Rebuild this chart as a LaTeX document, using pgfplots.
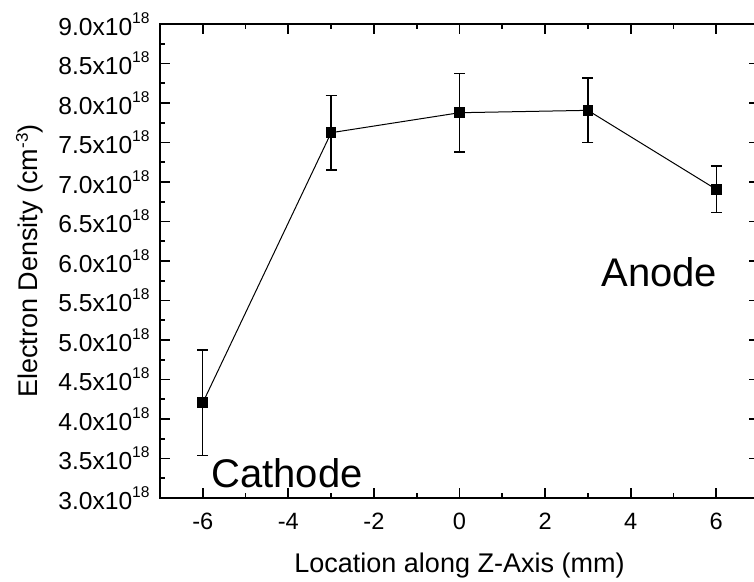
\documentclass[border=0pt]{standalone}
\usepackage{pgfplots}
\pgfplotsset{compat=1.18}
\usepackage{fontspec}
\setmainfont{Liberation Sans}

\newcommand{\xtickfont}{\fontsize{11.8}{13}\selectfont}
\newcommand{\ytickfont}{\fontsize{12.3}{14}\selectfont}
\newcommand{\labelfont}{\fontsize{13.5}{16}\selectfont}
\newcommand{\bigfont}{\fontsize{20}{24}\selectfont}

\begin{document}
\begin{tikzpicture}
\begin{axis}[
  name=ax,
  scale only axis,
  width=299.5pt, height=237pt,
  xmin=-7, xmax=7,
  ymin=3, ymax=9,
  xtick={-6,-4,...,6},
  ytick={3,3.5,...,9},
  minor x tick num=1,
  minor y tick num=1,
  tick align=inside,
  major tick length=5pt,
  minor tick length=2.6pt,
  every tick/.style={black, line width=0.9pt},
  axis line style={line width=1pt},
  /pgf/number format/assume math mode=true,
  xticklabel style={font=\xtickfont, inner sep=0pt, anchor=north, yshift=-7.5pt},
  yticklabel style={font=\ytickfont, inner sep=0pt, anchor=east, xshift=-5pt},
  yticklabel={\pgfmathprintnumber[fixed,fixed zerofill,precision=1]{\tick}x10\raisebox{6pt}{\fontsize{7.8}{8}\selectfont 18}},
  xlabel={Location along Z-Axis (mm)},
  ylabel={Electron Density (cm\raisebox{5pt}{\fontsize{8.5}{9}\selectfont -3})},
  xlabel style={font=\labelfont, inner sep=0pt, at={(axis description cs:0.5,-0.1574)}, anchor=base},
  ylabel style={font=\labelfont, inner sep=0pt, at={(axis description cs:-0.2037,0.5)}, anchor=base},
  clip=false,
]
% electron density in units of 10^18 cm^-3, with symmetric uncertainty
\addplot[
  black, line width=0.5pt,
  mark=square*, mark size=2.4pt, mark options={solid, fill=black},
  error bars/.cd, y dir=both, y explicit,
  error bar style={line width=0.65pt, black},
  error mark options={rotate=90, mark size=2.7pt, line width=0.65pt, black},
] coordinates {
  (-6, 4.206) +- (0, 0.667)
  (-3, 7.624) +- (0, 0.471)
  (0,  7.877) +- (0, 0.496)
  (3,  7.907) +- (0, 0.410)
  (6,  6.907) +- (0, 0.294)
};
\node[font=\bigfont, anchor=base, inner sep=0pt] at (axis cs:-4.03,3.127) {Cathode};
\node[font=\bigfont, anchor=base, inner sep=0pt] at (axis cs:4.67,5.675) {Anode};
\end{axis}
\pgfresetboundingbox
\path[use as bounding box] ([xshift=-80pt,yshift=-42pt]ax.south west) rectangle ([xshift=297pt,yshift=249pt]ax.south west);
\end{tikzpicture}
\end{document}
